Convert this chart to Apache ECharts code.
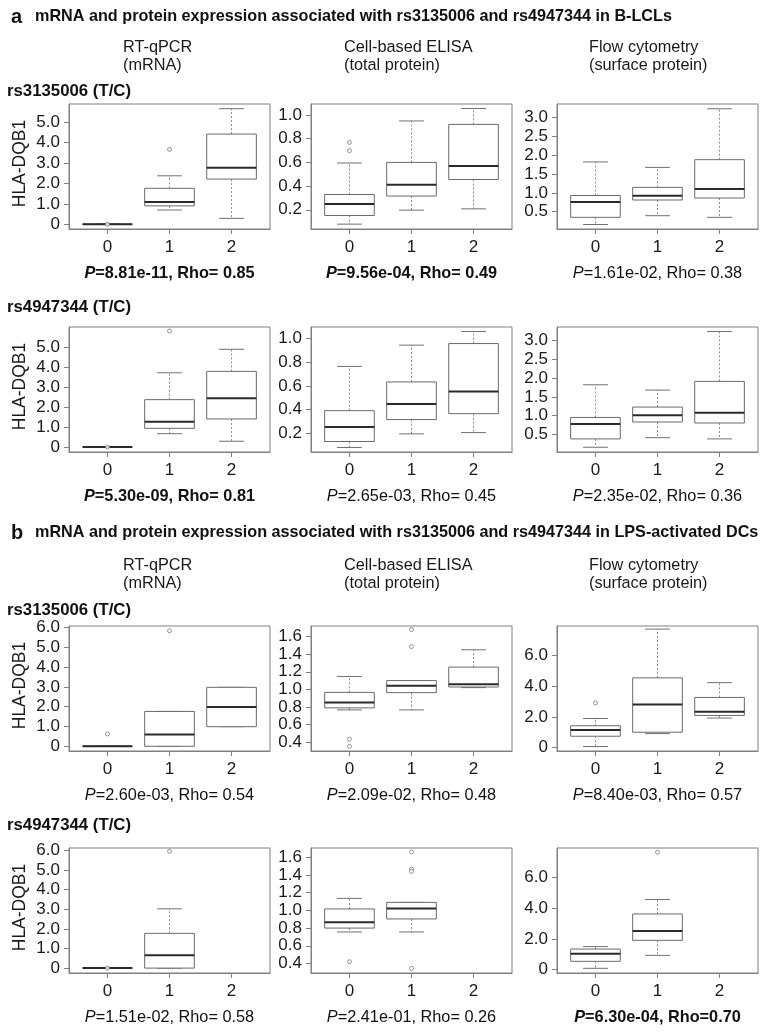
<!DOCTYPE html>
<html>
<head>
<meta charset="utf-8">
<script src="https://cdn.jsdelivr.net/npm/echarts@6/dist/echarts.min.js"></script>
<style>
html,body{margin:0;padding:0;background:#fff;}
#chart{width:770px;height:1034px;}
</style>
</head>
<body>
<div id="chart"></div>
<script>
// ---------------- DATA ----------------
// genotype categories (x axis)
const genotypes = [0, 1, 2];

// each box: [lower whisker, Q1, median, Q3, upper whisker]; null = no data
// Panel a (B-LCLs), rs3135006
const a1_mrna  = [[0,0,0,0,0],[0.70,0.90,1.09,1.76,2.37],[0.29,2.21,2.77,4.41,5.65]];
const a1_mrna_out  = [[0,0],[1,3.66]];
const a1_elisa = [[0.079,0.152,0.248,0.329,0.595],[0.197,0.316,0.411,0.600,0.950],[0.208,0.456,0.569,0.921,1.055]];
const a1_elisa_out = [[0,0.699],[0,0.769]];
const a1_flow  = [[0.16,0.35,0.757,0.93,1.82],[0.394,0.81,0.924,1.145,1.675],[0.35,0.863,1.10,1.88,3.23]];
const a1_flow_out  = [];

// Panel a (B-LCLs), rs4947344
const a2_mrna  = [[0,0,0,0,0],[0.67,0.94,1.27,2.38,3.73],[0.29,1.41,2.45,3.80,4.91]];
const a2_mrna_out  = [[0,0],[1,5.83]];
const a2_elisa = [[0.083,0.133,0.255,0.392,0.763],[0.197,0.317,0.447,0.633,0.942],[0.208,0.367,0.552,0.955,1.056]];
const a2_elisa_out = [];
const a2_flow  = [[0.166,0.387,0.78,0.955,1.82],[0.42,0.834,1.01,1.23,1.68],[0.387,0.808,1.08,1.91,3.23]];
const a2_flow_out  = [];

// Panel b (LPS-activated DCs), rs3135006
const b1_mrna  = [[0,0,0,0,0],[0,0,0.59,1.76,1.76],[0.99,0.99,1.99,2.98,2.98]];
const b1_mrna_out  = [[0,0.62],[1,5.84]];
const b1_elisa = [[0.767,0.79,0.85,0.966,1.147],[0.767,0.963,1.042,1.10,1.10],[1.02,1.027,1.057,1.253,1.45]];
const b1_elisa_out = [[0,0.434],[0,0.352],[1,1.486],[1,1.68]];
const b1_flow  = [[0.07,0.74,1.15,1.42,1.89],[0.91,1.0,2.8,4.53,7.70],[1.92,2.09,2.33,3.26,4.22]];
const b1_flow_out  = [[0,2.9]];

// Panel b (LPS-activated DCs), rs4947344
const b2_mrna  = [[0,0,0,0,0],[0,0,0.66,1.77,3.02],null];
const b2_mrna_out  = [[0,0],[1,5.95]];
const b2_elisa = [[0.756,0.80,0.865,1.016,1.135],[0.756,0.903,1.02,1.09,1.09],null];
const b2_elisa_out = [[0,0.42],[1,1.66],[1,1.467],[1,1.44],[1,0.345]];
const b2_flow  = [[0.085,0.54,1.04,1.34,1.5],[0.93,1.91,2.52,3.63,4.57],null];
const b2_flow_out  = [[1,7.65]];

// y tick labels
const ticks_a_mrna  = [0,1,2,3,4,5];
const ticks_a_elisa = [0.2,0.4,0.6,0.8,1.0];
const ticks_a_flow  = [0.5,1.0,1.5,2.0,2.5,3.0];
const ticks_b_mrna  = [0,1,2,3,4,5,6];
const ticks_b_elisa = [0.4,0.6,0.8,1.0,1.2,1.4,1.6];
const ticks_b_flow  = [0,2,4,6];

// statistics text
const stats_a1 = ['8.81e-11, Rho= 0.85','9.56e-04, Rho= 0.49','1.61e-02, Rho= 0.38'];
const bold_a1  = [true,true,false];
const stats_a2 = ['5.30e-09, Rho= 0.81','2.65e-03, Rho= 0.45','2.35e-02, Rho= 0.36'];
const bold_a2  = [true,false,false];
const stats_b1 = ['2.60e-03, Rho= 0.54','2.09e-02, Rho= 0.48','8.40e-03, Rho= 0.57'];
const bold_b1  = [false,false,false];
const stats_b2 = ['1.51e-02, Rho= 0.58','2.41e-01, Rho= 0.26','6.30e-04, Rho=0.70'];
const bold_b2  = [false,false,true];

const titleA = 'mRNA and protein expression associated with rs3135006 and rs4947344 in B-LCLs';
const titleB = 'mRNA and protein expression associated with rs3135006 and rs4947344 in LPS-activated DCs';
const colHead1 = ['RT-qPCR','Cell-based ELISA','Flow cytometry'];
const colHead2 = ['(mRNA)','(total protein)','(surface protein)'];
const snpLabels = ['rs3135006 (T/C)','rs4947344 (T/C)'];
const yName = 'HLA-DQB1';

// ---------------- LAYOUT ----------------
const FONT = "'Liberation Sans', Arial, sans-serif";
const colLeft = [69, 311, 557];
const colW = 201;
const rowTop = [104, 327, 626, 848];
const rowH = 125;

const rows = [
  {boxes:[a1_mrna,a1_elisa,a1_flow], outs:[a1_mrna_out,a1_elisa_out,a1_flow_out],
   ext:[[-0.23,5.88],[0.038,1.093],[0.041,3.357]], ticks:[ticks_a_mrna,ticks_a_elisa,ticks_a_flow],
   stats:stats_a1, bold:bold_a1},
  {boxes:[a2_mrna,a2_elisa,a2_flow], outs:[a2_mrna_out,a2_elisa_out,a2_flow_out],
   ext:[[-0.25,6.03],[0.045,1.094],[0.04,3.35]], ticks:[ticks_a_mrna,ticks_a_elisa,ticks_a_flow],
   stats:stats_a2, bold:bold_a2},
  {boxes:[b1_mrna,b1_elisa,b1_flow], outs:[b1_mrna_out,b1_elisa_out,b1_flow_out],
   ext:[[-0.24,6.08],[0.30,1.72],[-0.22,7.9]], ticks:[ticks_b_mrna,ticks_b_elisa,ticks_b_flow],
   stats:stats_b1, bold:bold_b1},
  {boxes:[b2_mrna,b2_elisa,b2_flow], outs:[b2_mrna_out,b2_elisa_out,b2_flow_out],
   ext:[[-0.25,6.12],[0.293,1.704],[-0.22,7.93]], ticks:[ticks_b_mrna,ticks_b_elisa,ticks_b_flow],
   stats:stats_b2, bold:bold_b2}
];

const grids = [], xAxes = [], yAxes = [], series = [], graphics = [];
const GRAY = '#808080';

function renderBox(params, api) {
  const x = api.value(0);
  const vMin = api.value(1), vQ1 = api.value(2), vMd = api.value(3), vQ3 = api.value(4), vMax = api.value(5);
  const pMd = api.coord([x, vMd]);
  const cx = pMd[0];
  const half = api.size([0.8, 0])[0] / 2;
  const sh = half / 2;
  const yMin = api.coord([x, vMin])[1];
  const yQ1 = api.coord([x, vQ1])[1];
  const yQ3 = api.coord([x, vQ3])[1];
  const yMax = api.coord([x, vMax])[1];
  const dash = {stroke: '#8a8a8a', lineWidth: 1, lineDash: [2, 2]};
  const solid = {stroke: '#707070', lineWidth: 1};
  return {type: 'group', children: [
    {type: 'line', shape: {x1: cx, y1: yQ3, x2: cx, y2: yMax}, style: dash},
    {type: 'line', shape: {x1: cx, y1: yQ1, x2: cx, y2: yMin}, style: dash},
    {type: 'line', shape: {x1: cx - sh, y1: yMax, x2: cx + sh, y2: yMax}, style: solid},
    {type: 'line', shape: {x1: cx - sh, y1: yMin, x2: cx + sh, y2: yMin}, style: solid},
    {type: 'rect', shape: {x: cx - half, y: yQ3, width: 2 * half, height: Math.max(0, yQ1 - yQ3)},
      style: {fill: '#fff', stroke: '#6a6a6a', lineWidth: 1}},
    {type: 'line', shape: {x1: cx - half, y1: pMd[1], x2: cx + half, y2: pMd[1]},
      style: {stroke: '#2a2a2a', lineWidth: 2}}
  ]};
}

let gi = 0;
rows.forEach((row, r) => {
  for (let c = 0; c < 3; c++) {
    const left = colLeft[c], top = rowTop[r];
    grids.push({left: left, top: top, width: colW, height: rowH, show: true,
      borderColor: GRAY, borderWidth: 1, backgroundColor: 'transparent', containLabel: false});
    xAxes.push({type: 'value', gridIndex: gi, min: -0.62, max: 2.62,
      axisLine: {show: true, onZero: false, lineStyle: {color: GRAY}},
      axisTick: {show: true, length: 5, lineStyle: {color: GRAY}, customValues: genotypes},
      axisLabel: {show: true, customValues: genotypes, margin: 10, fontSize: 17, fontFamily: FONT, color: '#1a1a1a',
        formatter: v => String(v)},
      splitLine: {show: false}});
    yAxes.push({type: 'value', gridIndex: gi, min: row.ext[c][0], max: row.ext[c][1],
      axisLine: {show: true, onZero: false, lineStyle: {color: GRAY}},
      axisTick: {show: true, length: 5, lineStyle: {color: GRAY}, customValues: row.ticks[c]},
      axisLabel: {show: true, customValues: row.ticks[c], margin: 9, fontSize: 17, fontFamily: FONT, color: '#1a1a1a',
        formatter: v => (Math.abs(v) < 1e-9 ? '0' : v.toFixed(1))},
      splitLine: {show: false}});
    const boxData = [];
    row.boxes[c].forEach((b, i) => { if (b) boxData.push([genotypes[i]].concat(b)); });
    series.push({type: 'custom', xAxisIndex: gi, yAxisIndex: gi, renderItem: renderBox,
      data: boxData, encode: {x: 0, y: [1, 2, 3, 4, 5]}, silent: true, z: 2});
    series.push({type: 'scatter', xAxisIndex: gi, yAxisIndex: gi, data: row.outs[c],
      symbol: 'circle', symbolSize: 4, silent: true, z: 3,
      itemStyle: {color: '#fff', borderColor: '#707070', borderWidth: 0.9}});
    // statistics text
    const bw = row.bold[c] ? 'bold' : 'normal';
    graphics.push({type: 'text', x: left + colW / 2, y: top + rowH + 44.5, z: 10,
      style: {text: '{i|P}=' + row.stats[c], fontSize: 16.3, fontFamily: FONT, fontWeight: bw, fill: '#111',
        align: 'center', verticalAlign: 'middle', textAlign: 'center', textVerticalAlign: 'middle',
        rich: {i: {fontStyle: 'italic', fontWeight: bw, fontSize: 16.3, fontFamily: FONT, fill: '#111'}}}});
    gi++;
  }
  // y-axis name
  graphics.push({type: 'text', x: 20, y: rowTop[r] + rowH / 2 - 3, rotation: Math.PI / 2, z: 10,
    style: {text: yName, fontSize: 17.5, fontFamily: FONT, fill: '#1a1a1a',
      align: 'center', verticalAlign: 'middle', textAlign: 'center', textVerticalAlign: 'middle'}});
});

// titles and headers
const secTitleY = [17, 533];
const headY = [[48, 66], [566, 584]];
const snpY = [[91, 307], [610, 825]];
const secLetters = ['a', 'b'];
const secTitles = [titleA, titleB];
const headLeft = [123, 344, 589];
for (let s = 0; s < 2; s++) {
  graphics.push({type: 'text', x: 11, y: secTitleY[s], z: 10,
    style: {text: secLetters[s], fontSize: 20, fontWeight: 'bold', fontFamily: FONT, fill: '#111',
      align: 'left', verticalAlign: 'middle', textAlign: 'left', textVerticalAlign: 'middle'}});
  graphics.push({type: 'text', x: 35, y: secTitleY[s], z: 10,
    style: {text: secTitles[s], fontSize: 16.2, fontWeight: 'bold', fontFamily: FONT, fill: '#111',
      align: 'left', verticalAlign: 'middle', textAlign: 'left', textVerticalAlign: 'middle'}});
  for (let c = 0; c < 3; c++) {
    graphics.push({type: 'text', x: headLeft[c], y: headY[s][0], z: 10,
      style: {text: colHead1[c], fontSize: 16.3, fontFamily: FONT, fill: '#1a1a1a',
        align: 'left', verticalAlign: 'middle', textAlign: 'left', textVerticalAlign: 'middle'}});
    graphics.push({type: 'text', x: headLeft[c], y: headY[s][1], z: 10,
      style: {text: colHead2[c], fontSize: 16.3, fontFamily: FONT, fill: '#1a1a1a',
        align: 'left', verticalAlign: 'middle', textAlign: 'left', textVerticalAlign: 'middle'}});
  }
  for (let k = 0; k < 2; k++) {
    graphics.push({type: 'text', x: 7, y: snpY[s][k], z: 10,
      style: {text: snpLabels[k], fontSize: 16.8, fontWeight: 'bold', fontFamily: FONT, fill: '#111',
        align: 'left', verticalAlign: 'middle', textAlign: 'left', textVerticalAlign: 'middle'}});
  }
}

const chart = echarts.init(document.getElementById('chart'), null, {renderer: 'canvas'});
chart.setOption({
  animation: false,
  backgroundColor: '#fff',
  grid: grids,
  xAxis: xAxes,
  yAxis: yAxes,
  series: series,
  graphic: graphics
});
</script>
</body>
</html>
